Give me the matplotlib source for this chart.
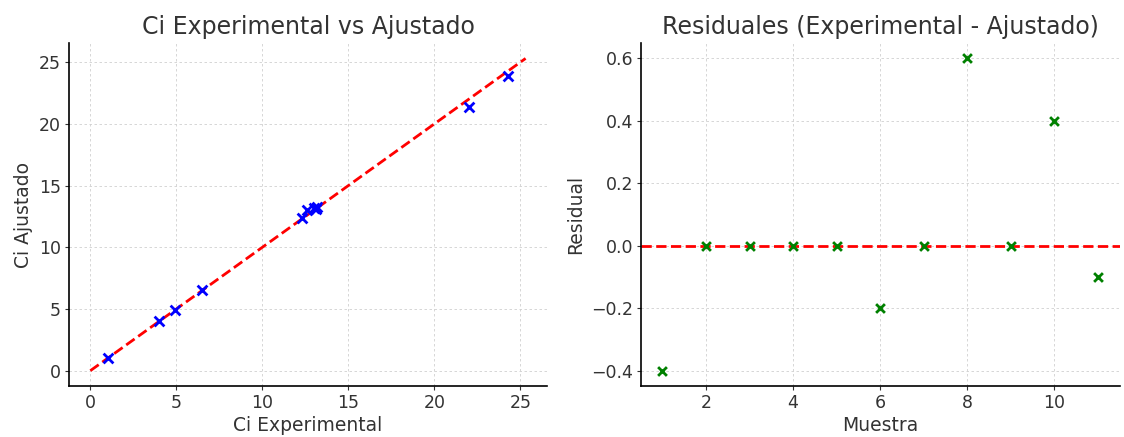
import numpy as np
import matplotlib
matplotlib.use("Agg")
import matplotlib.pyplot as plt

# Datos
ci_experimental = [1.0, 4.0, 4.9, 6.5, 12.3, 12.6, 13.0, 13.2, 13.1, 22.0, 24.3]
ci_ajustado = [1.0, 4.0, 4.9, 6.5, 12.4, 13.0, 13.2, 13.3, 13.1, 21.4, 23.9]
muestras = [1, 2, 3, 4, 5, 6, 7, 8, 9, 10, 11]
residuales = [-0.4, 0.0, 0.0, 0.0, 0.0, -0.2, 0.0, 0.6, 0.0, 0.4, -0.1]

plt.rcParams["font.family"] = "DejaVu Sans"
plt.rcParams["text.color"] = "#333333"
plt.rcParams["axes.labelcolor"] = "#333333"
plt.rcParams["xtick.color"] = "#333333"
plt.rcParams["ytick.color"] = "#333333"

fig, (ax1, ax2) = plt.subplots(1, 2, figsize=(11.24, 4.37), dpi=100)

# Gráfico 1: experimental vs ajustado
ax1.scatter(ci_experimental, ci_ajustado, color="blue", marker="x", s=50, linewidths=2, zorder=3)
lim = max(ci_experimental) + 1
ax1.plot([0, lim], [0, lim], "r--", linewidth=2)
ax1.set_title("Ci Experimental vs Ajustado", fontsize=17)
ax1.set_xlabel("Ci Experimental", fontsize=13.5, labelpad=3)
ax1.set_ylabel("Ci Ajustado", fontsize=13.5)

# Gráfico 2: residuales
ax2.scatter(muestras, residuales, color="green", marker="x", s=40, linewidths=2, zorder=3)
ax2.axhline(0, color="red", linestyle="--", linewidth=2)
ax2.set_title("Residuales (Experimental - Ajustado)", fontsize=17)
ax2.set_xlabel("Muestra", fontsize=13.5, labelpad=3)
ax2.set_ylabel("Residual", fontsize=13.5)

for ax in (ax1, ax2):
    ax.grid(True, linestyle=(0, (3, 3)), color="#d0d0d0", linewidth=0.6)
    ax.set_axisbelow(True)
    ax.spines["top"].set_visible(False)
    ax.spines["right"].set_visible(False)
    ax.spines["left"].set_linewidth(1.2)
    ax.spines["bottom"].set_linewidth(1.2)
    ax.tick_params(labelsize=12.5, length=3, pad=2.5)

plt.subplots_adjust(left=0.061, right=0.996, bottom=0.116, top=0.902, wspace=0.195)
plt.savefig("out.png")
